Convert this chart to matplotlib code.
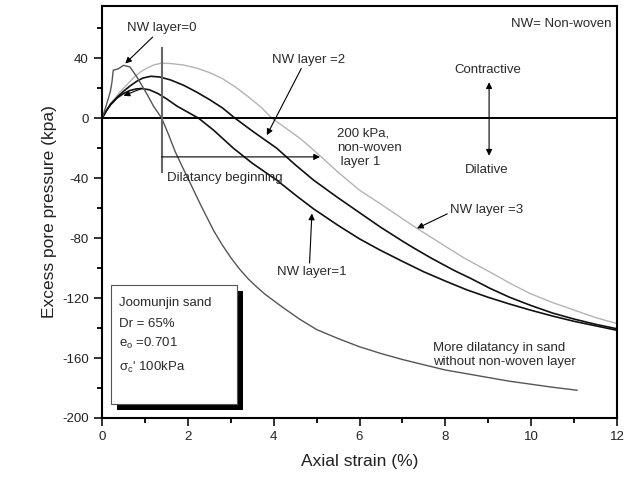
import matplotlib
matplotlib.use("Agg")
import matplotlib.pyplot as plt
from matplotlib.patches import Rectangle
from matplotlib.ticker import MultipleLocator

plt.rcParams['font.family'] = ['Liberation Sans', 'DejaVu Sans']
plt.rcParams['axes.unicode_minus'] = False

# Excess pore pressure (kPa) vs axial strain (%) for each non-woven layer count
nw0_x = [0, 0.08, 0.19, 0.23, 0.26, 0.38, 0.5, 0.65, 0.81, 1.04, 1.2, 1.39,
         1.55, 1.7, 1.88, 2.05, 2.3, 2.6, 2.8, 3.0, 3.2, 3.4, 3.6, 3.8, 4.2, 4.6,
         5.0, 5.5, 6.0, 6.5, 7.0, 7.5, 8.0, 8.5, 9.0, 9.5, 10.0, 10.5, 11.07]
nw0_y = [0, 7, 17.5, 24, 32, 33, 35.3, 34.2, 27.6, 16.4, 8, 0,
         -11, -22, -33, -43, -58, -75, -84.5, -93, -100.5, -107, -112.5, -117.5, -126, -134,
         -141, -147, -152.5, -157, -161, -164.5, -168, -170.5, -173, -175.5, -177.5, -179.5, -181.5]

nw1_x = [0, 0.1, 0.2, 0.35, 0.5, 0.65, 0.8, 0.92, 1.1, 1.3, 1.5, 1.75, 2.0, 2.25,
         2.6, 3.06, 3.5, 4.07, 4.54, 4.93, 5.5, 6.0, 6.48, 7.0, 7.5, 8.03, 8.5,
         9.0, 9.5, 9.98, 10.5, 11.0, 11.5, 12.0]
nw1_y = [0, 5, 9, 13.5, 16.5, 18.5, 19.6, 19.8, 19, 16.5, 13, 8, 4, 0,
         -8, -20, -30, -41.3, -52, -60.5, -71.5, -80.5, -88, -95.5, -102.5, -109, -114.5,
         -119.5, -124, -128, -132, -135.5, -138.5, -141.5]

nw2_x = [0, 0.1, 0.2, 0.35, 0.5, 0.65, 0.8, 0.95, 1.14, 1.35, 1.6, 1.9, 2.2, 2.5,
         2.8, 3.1, 3.5, 4.07, 4.5, 4.93, 5.47, 6.0, 6.48, 7.0, 7.26, 7.65, 8.2,
         8.6, 9.04, 9.5, 10.0, 10.5, 11.0, 11.5, 12.0]
nw2_y = [0, 5, 9.5, 14, 18, 21.5, 24.5, 26.8, 28, 27.5, 25.5, 22, 17.5, 12.5,
         7, 0, -8.5, -20, -31, -41.3, -52.5, -63, -72.5, -82, -86.5, -93, -101.5,
         -107, -113.5, -119.5, -125, -130, -134, -137.5, -140.5]

nw3_x = [0, 0.1, 0.2, 0.3, 0.4, 0.5, 0.6, 0.75, 0.9, 1.05, 1.2, 1.37, 1.6, 1.9,
         2.2, 2.5, 2.8, 3.1, 3.4, 3.7, 3.96, 4.3, 4.62, 5.0, 5.5, 6.0, 6.48, 7.0,
         7.34, 7.7, 8.03, 8.46, 9.0, 9.5, 9.98, 10.5, 11.0, 11.5, 12.0]
nw3_y = [0, 5, 10, 13, 17, 20, 23, 27.5, 31, 33.5, 35.5, 36.7, 36.5, 35.5,
         33.5, 30.5, 26.5, 21, 14.5, 7.5, 0, -7, -13.6, -23, -36, -48, -57, -67,
         -73.5, -80, -86, -93.6, -102, -110, -117, -123, -128, -133, -137]

dilatancy_strain = 1.39

fig = plt.figure(figsize=(6.38, 4.86), dpi=100)
ax = fig.add_axes([0.16, 0.14, 0.807, 0.848])

ax.plot(nw3_x, nw3_y, color='#b4b4b4', lw=1.0)
ax.plot(nw2_x, nw2_y, color='#111111', lw=1.2)
ax.plot(nw1_x, nw1_y, color='#111111', lw=1.2)
ax.plot(nw0_x, nw0_y, color='#555555', lw=1.0)

ax.axhline(0, color='black', lw=1.4)
ax.plot([dilatancy_strain, dilatancy_strain], [47, -36], color='#666666', lw=1.5)

ax.set_xlim(0, 12)
ax.set_ylim(-200, 75)
ax.xaxis.set_major_locator(MultipleLocator(2))
ax.xaxis.set_minor_locator(MultipleLocator(1))
ax.yaxis.set_major_locator(MultipleLocator(40))
ax.yaxis.set_minor_locator(MultipleLocator(20))
ax.tick_params(which='major', direction='out', length=6, width=1.3, labelsize=9.5, colors='#222222')
ax.tick_params(which='minor', direction='out', length=3.5, width=1.3)
for s in ax.spines.values():
    s.set_linewidth(1.5)

ax.set_xlabel('Axial strain (%)', fontsize=12.5, color='#222222', labelpad=8)
ax.set_ylabel('Excess pore pressure (kpa)', fontsize=12.5, color='#222222', labelpad=4)

tc = '#2a2a2a'
fs = 9.5
arr = dict(arrowstyle='-|>', color='black', lw=0.8, mutation_scale=9, shrinkA=0, shrinkB=0)

ax.annotate('NW layer=0', xy=(0.54, 36.5), xytext=(0.58, 60), fontsize=fs, color=tc,
            va='center', arrowprops=arr)
ax.annotate('', xy=(0.5, 15), xytext=(0.92, 19.8), arrowprops=arr)
ax.annotate('NW layer =2', xy=(3.84, -11.3), xytext=(3.96, 39), fontsize=fs, color=tc,
            va='center', arrowprops=dict(arr, relpos=(0.42, 0)))
ax.annotate('NW layer =3', xy=(7.34, -73.5), xytext=(8.11, -61.3), fontsize=fs, color=tc,
            va='center', arrowprops=dict(arr, relpos=(0, 0.3)))
ax.annotate('NW layer=1', xy=(4.89, -63.6), xytext=(4.07, -102.5), fontsize=fs, color=tc,
            va='center', arrowprops=dict(arr, relpos=(0.47, 1)))

ax.annotate('', xy=(5.08, -25.8), xytext=(dilatancy_strain, -25.8), arrowprops=arr)
ax.text(1.51, -40.2, 'Dilatancy beginning', fontsize=fs, color=tc, va='center')
ax.text(5.47, -20, '200 kPa,\nnon-woven\n layer 1', fontsize=fs, color=tc, va='center',
        linespacing=1.25)

ax.annotate('', xy=(9.02, 24), xytext=(9.02, -25),
            arrowprops=dict(arrowstyle='<|-|>', color='black', lw=0.8, mutation_scale=9,
                            shrinkA=0, shrinkB=0))
ax.text(9.0, 32, 'Contractive', fontsize=fs, color=tc, ha='center', va='center')
ax.text(8.97, -34.7, 'Dilative', fontsize=fs, color=tc, ha='center', va='center')
ax.text(11.88, 63, 'NW= Non-woven', fontsize=fs, color=tc, ha='right', va='center')

ax.text(7.72, -158, 'More dilatancy in sand\nwithout non-woven layer', fontsize=fs,
        color=tc, va='center', linespacing=1.2)

# Sample info box with drop shadow
ax.add_patch(Rectangle((0.34, -194.7), 2.94, 79.4, facecolor='black', edgecolor='none', zorder=4))
ax.add_patch(Rectangle((0.20, -190.7), 2.94, 79.4, facecolor='white', edgecolor='#555555',
                       lw=0.8, zorder=5))
box_lines = ['Joomunjin sand', 'Dr = 65%', r'e$_\mathregular{o}$ =0.701',
             r"$\mathregular{\sigma_c}$' 100kPa"]
box_y = [-123.5, -137, -150.5, -166.5]
for s, yy in zip(box_lines, box_y):
    ax.text(0.40, yy, s, fontsize=fs, color=tc, va='center', zorder=6)

fig.savefig('out.png', dpi=100)
